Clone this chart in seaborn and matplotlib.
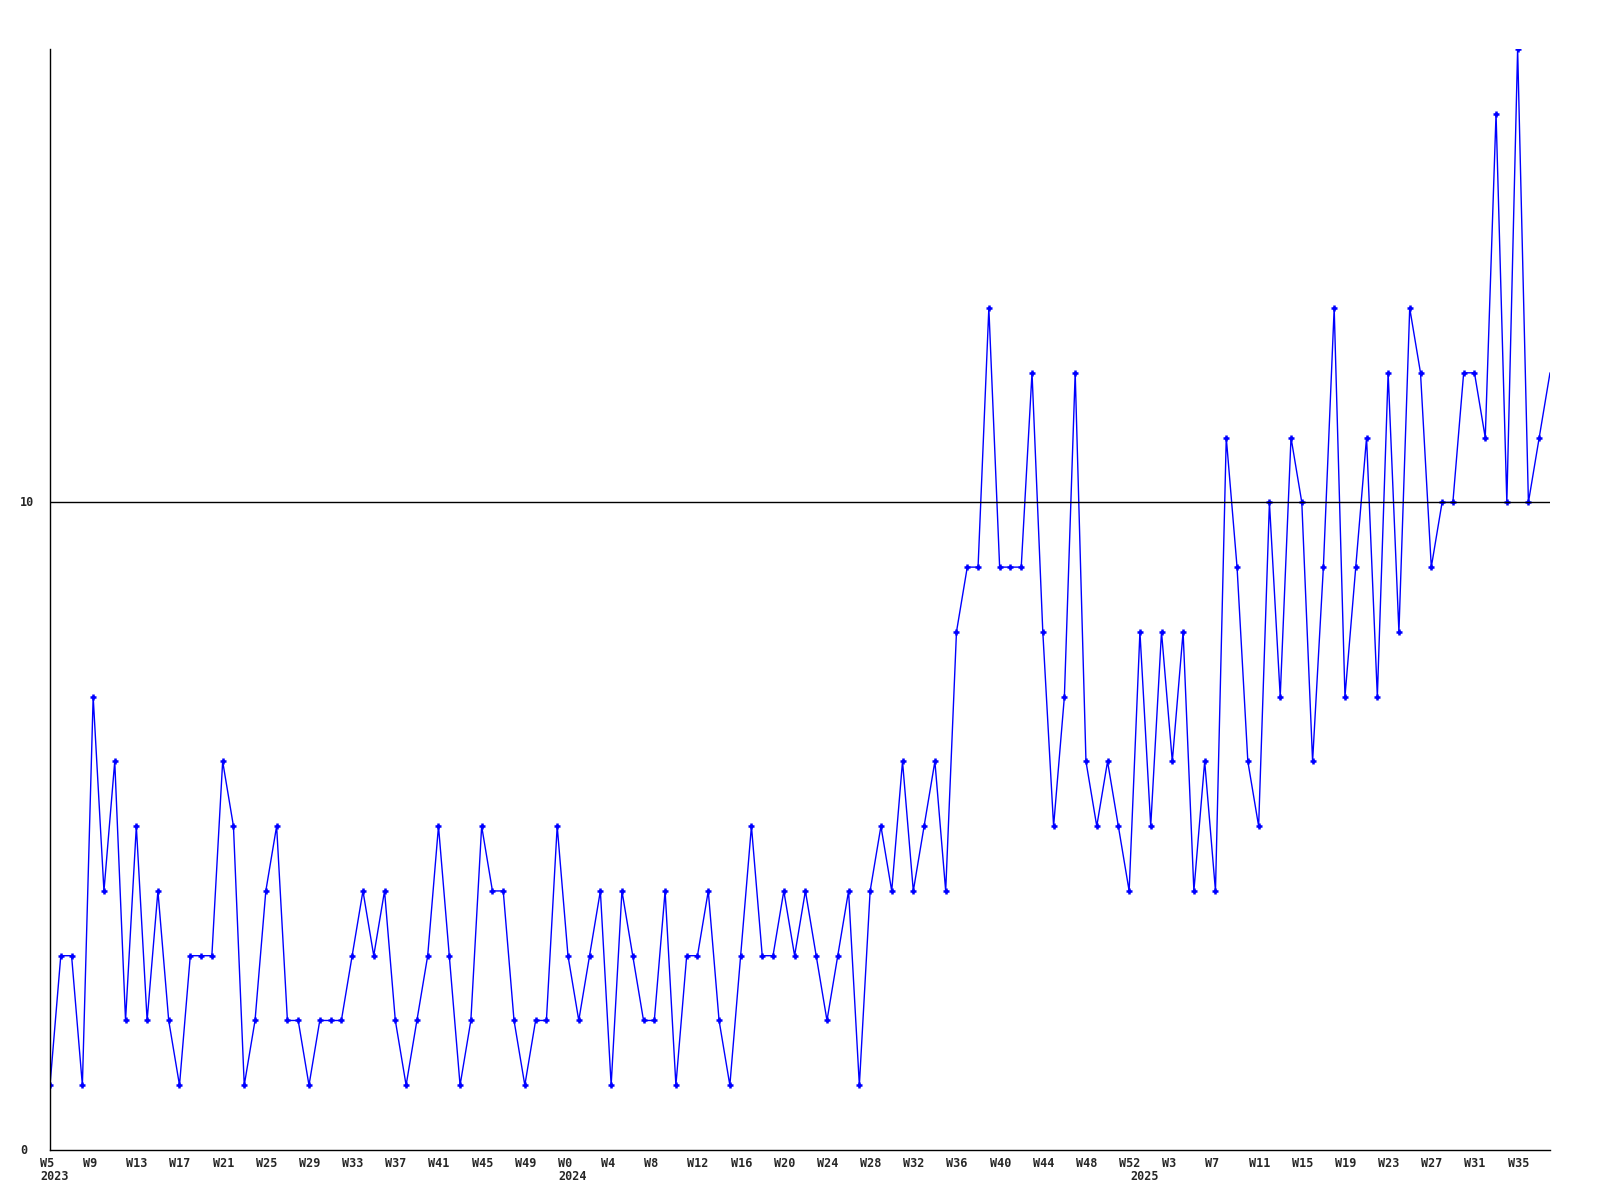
import matplotlib
matplotlib.use("Agg")
import matplotlib.pyplot as plt
from matplotlib.transforms import ScaledTranslation
import seaborn as sns
import pandas as pd

sns.set_style("white")
plt.rcParams['font.family'] = ['DejaVu Sans Mono', 'DejaVu Sans']

# weekly counts
years = [2023, 2024, 2025]
first_week = [5, 0, 0]
values_2023 = [1, 3, 3, 1, 7, 4, 6, 2, 5, 2, 4, 2, 1, 3, 3, 3, 6, 5, 1, 2, 4, 5, 2, 2,
               1, 2, 2, 2, 3, 4, 3, 4, 2, 1, 2, 3, 5, 3, 1, 2, 5, 4, 4, 2, 1, 2, 2, 5]
values_2024 = [3, 2, 3, 4, 1, 4, 3, 2, 2, 4, 1, 3, 3, 4, 2, 1, 3, 5, 3, 3, 4, 3, 4, 3, 2,
               3, 4, 1, 4, 5, 4, 6, 4, 5, 6, 4, 8, 9, 9, 13, 9, 9, 9, 12, 8, 5, 7, 12, 6, 5, 6, 5, 4]
values_2025 = [8, 5, 8, 6, 8, 4, 6, 4, 11, 9, 6, 5, 10, 7, 11, 10, 6, 9, 13, 7,
               9, 11, 7, 12, 8, 13, 12, 9, 10, 10, 12, 12, 11, 16, 10, 17, 10, 11, 12]
y_ticks = [0, 10]

rows = []
year_start = {}
for yr, w0, vals in zip(years, first_week, [values_2023, values_2024, values_2025]):
    year_start[yr] = len(rows)
    for k, v in enumerate(vals):
        rows.append({'idx': len(rows), 'year': yr, 'week': w0 + k, 'value': v})
df = pd.DataFrame(rows)
n = len(df)

fig = plt.figure(figsize=(16, 12), dpi=100)
ax = fig.add_axes([50 / 1600, 50 / 1200, 1500 / 1600, 1101 / 1200])

sns.lineplot(data=df, x='idx', y='value', ax=ax, color='#0000ff', linewidth=1,
             marker='+', markersize=5, markeredgewidth=1.8, markeredgecolor='#0000ff',
             markevery=list(range(n - 1)))
ax.axhline(10, color='black', linewidth=1, zorder=3)

ax.set_xlim(0, n - 1)
ax.set_ylim(0, 17)
ax.set_xlabel('')
ax.set_ylabel('')
for s in ['top', 'right']:
    ax.spines[s].set_visible(False)
for s in ['left', 'bottom']:
    ax.spines[s].set_color('black')
    ax.spines[s].set_linewidth(1)

fs = 8.5
tick_idx = df['idx'][::4].tolist()
ax.set_xticks(tick_idx)
ax.set_xticklabels(['W%d' % w for w in df['week'][::4]], fontsize=fs, fontweight='bold')
ax.tick_params(axis='x', length=0, pad=5)
shift = ScaledTranslation(-10 / 100, 0, fig.dpi_scale_trans)
for lbl in ax.get_xticklabels():
    lbl.set_horizontalalignment('left')
    lbl.set_transform(lbl.get_transform() + shift)

ax.set_yticks([])
for t in y_ticks:
    ax.text(-30 / 1500, t, str(t), transform=ax.get_yaxis_transform(), ha='left', va='center',
            fontsize=fs, fontweight='bold')

# year labels under the first week of each year
for yr in years:
    ax.text(year_start[yr], -27 / 1101, str(yr), transform=ax.get_xaxis_transform() + shift,
            ha='left', va='center', fontsize=fs, fontweight='bold')

fig.savefig('out.png', dpi=100, facecolor='white')
